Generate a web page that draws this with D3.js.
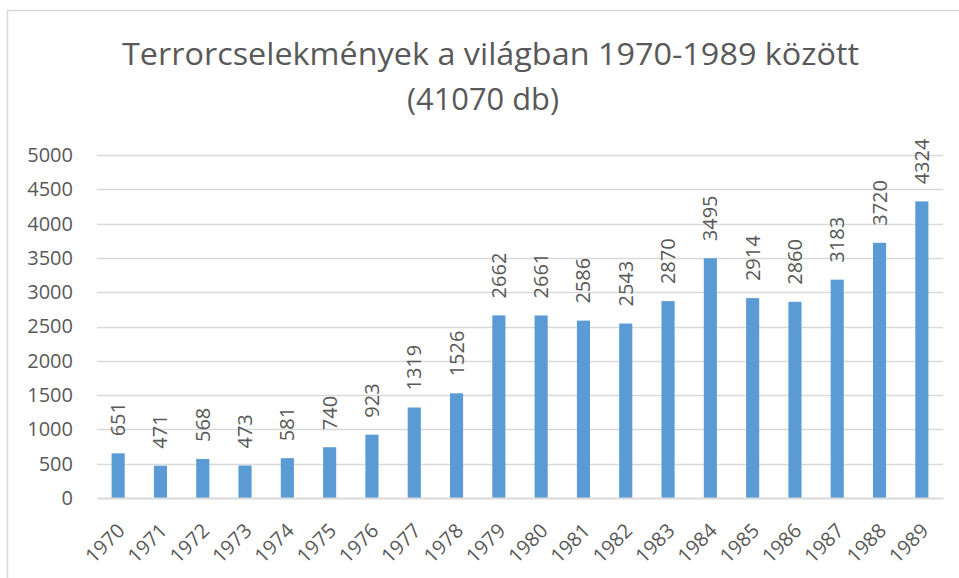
<!DOCTYPE html>
<html>
<head>
<meta charset="utf-8">
<script src="https://cdn.jsdelivr.net/npm/d3@7.9.0/dist/d3.min.js"></script>
<style>
  html, body { margin: 0; padding: 0; background: #fff; }
  svg { display: block; }
  text { font-family: "Open Sans", "Noto Sans", sans-serif; fill: #595959; }
</style>
</head>
<body>
<div id="chart"></div>
<script>
const years = ['1970','1971','1972','1973','1974','1975','1976','1977','1978','1979',
               '1980','1981','1982','1983','1984','1985','1986','1987','1988','1989'];
const incidents = [651, 471, 568, 473, 581, 740, 923, 1319, 1526, 2662,
                   2661, 2586, 2543, 2870, 3495, 2914, 2860, 3183, 3720, 4324];
const yTicks = [0, 500, 1000, 1500, 2000, 2500, 3000, 3500, 4000, 4500, 5000];
const titleLines = ['Terrorcselekmények a világban 1970-1989 között', '(41070 db)'];

const width = 959;
const height = 578;
const plot = { left: 97, right: 943, top: 155, bottom: 498 };

const svg = d3.select('#chart')
  .append('svg')
  .attr('width', width)
  .attr('height', height);

// chart frame
svg.append('rect')
  .attr('x', 7.5)
  .attr('y', 10.5)
  .attr('width', 1000)
  .attr('height', 1000)
  .attr('fill', 'none')
  .attr('stroke', '#d9d9d9')
  .attr('stroke-width', 1.5);

// title
svg.append('text')
  .attr('x', 490.5)
  .attr('y', 65)
  .attr('text-anchor', 'middle')
  .attr('font-size', 31)
  .attr('textLength', 737)
  .attr('lengthAdjust', 'spacingAndGlyphs')
  .text(titleLines[0]);

svg.append('text')
  .attr('x', 483)
  .attr('y', 110)
  .attr('text-anchor', 'middle')
  .attr('font-size', 31)
  .attr('textLength', 152)
  .attr('lengthAdjust', 'spacingAndGlyphs')
  .text(titleLines[1]);

const x = d3.scaleBand()
  .domain(years)
  .range([plot.left, plot.right])
  .paddingInner(0.69)
  .paddingOuter(0.345);

const y = d3.scaleLinear()
  .domain([0, 5000])
  .range([plot.bottom, plot.top]);

// gridlines
svg.append('g')
  .selectAll('line')
  .data(yTicks.filter(d => d > 0))
  .join('line')
  .attr('x1', plot.left)
  .attr('x2', plot.right)
  .attr('y1', d => Math.round(y(d)) + 0.5)
  .attr('y2', d => Math.round(y(d)) + 0.5)
  .attr('stroke', '#d9d9d9')
  .attr('stroke-width', 1.3);

// y axis labels
const yAxis = svg.append('g')
  .attr('transform', `translate(${plot.left}, 0)`)
  .call(d3.axisLeft(y).tickValues(yTicks).tickFormat(d3.format('d')).tickSize(0).tickPadding(24));
yAxis.select('.domain').remove();
yAxis.selectAll('text')
  .attr('font-size', 20)
  .attr('font-family', '"Open Sans", sans-serif')
  .attr('fill', '#595959');

// bars
svg.append('g')
  .selectAll('rect')
  .data(incidents)
  .join('rect')
  .attr('x', (d, i) => x(years[i]))
  .attr('y', d => y(d))
  .attr('width', x.bandwidth())
  .attr('height', d => y(0) - y(d))
  .attr('fill', '#5b9bd5');

// value labels
svg.append('g')
  .selectAll('text')
  .data(incidents)
  .join('text')
  .attr('transform', (d, i) =>
    `translate(${x(years[i]) + x.bandwidth() / 2}, ${y(d) - 17}) rotate(-90)`)
  .attr('dy', '0.35em')
  .attr('font-size', 20)
  .text(d => d);

// x axis
const xAxis = svg.append('g')
  .attr('transform', `translate(0, ${plot.bottom})`)
  .call(d3.axisBottom(x).tickSize(0).tickPadding(0));
xAxis.select('.domain')
  .attr('stroke', '#d9d9d9')
  .attr('stroke-width', 2);
xAxis.selectAll('text')
  .attr('font-size', 20)
  .attr('font-family', '"Open Sans", sans-serif')
  .attr('fill', '#595959')
  .attr('text-anchor', 'end')
  .attr('dy', '0.35em')
  .attr('transform', 'translate(3, 29) rotate(-45)');
</script>
</body>
</html>
